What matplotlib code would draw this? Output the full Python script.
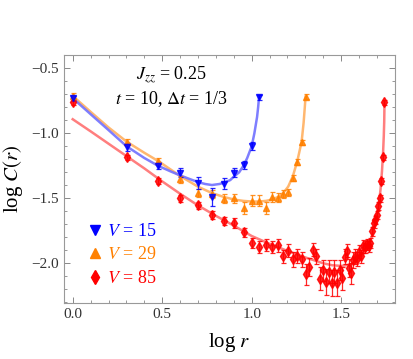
import numpy as np
import matplotlib
matplotlib.use("Agg")
import matplotlib.pyplot as plt
from matplotlib.lines import Line2D
from matplotlib.ticker import MultipleLocator

plt.rcParams.update({
    'font.family': ['Liberation Serif', 'DejaVu Serif'],
    'mathtext.fontset': 'stix',
    'axes.unicode_minus': True,
})

# ---- data: log C(r) vs r (x axis is log10 r) ----
r_15 = np.arange(1, 12)
c_15 = [-0.731, -1.103, -1.248, -1.303, -1.385, -1.49, -1.387, -1.303, -1.242, -1.099, -0.723]
e_15 = [0.02, 0.03, 0.03, 0.035, 0.045, 0.07, 0.045, 0.035, 0.03, 0.03, 0.02]

r_29 = np.arange(1, 21)
c_29 = [-0.713, -1.064, -1.213, -1.354, -1.46, -1.467, -1.505, -1.50, -1.577, -1.518,
        -1.518, -1.577, -1.49, -1.495, -1.467, -1.455, -1.345, -1.22, -1.07, -0.718]
e_29 = [0.02, 0.02, 0.025, 0.025, 0.03, 0.03, 0.035, 0.035, 0.045, 0.04,
        0.04, 0.045, 0.035, 0.035, 0.03, 0.03, 0.025, 0.025, 0.02, 0.02]

r_85 = np.arange(1, 56)
c_85 = [-0.763, -1.185, -1.367, -1.50, -1.555, -1.628, -1.672, -1.69, -1.76, -1.846,
        -1.872, -1.858, -1.875, -1.863, -1.947, -1.905, -1.97, -1.945, -1.97, -2.083,
        -2.03, -1.895, -1.947, -2.118, -2.055, -2.145, -2.064, -2.154, -2.064, -2.15,
        -2.052, -2.115, -1.949, -1.903, -2.035, -2.077, -1.975, -1.948, -1.965, -1.91,
        -1.945, -1.867, -1.873, -1.855, -1.87, -1.845, -1.755, -1.692, -1.668, -1.628,
        -1.56, -1.50, -1.367, -1.185, -0.762]
e_85 = [0.02, 0.02, 0.025, 0.025, 0.03, 0.03, 0.03, 0.035, 0.035, 0.04,
        0.045, 0.045, 0.045, 0.05, 0.05, 0.05, 0.055, 0.055, 0.06, 0.08,
        0.07, 0.05, 0.06, 0.09, 0.08, 0.1, 0.09, 0.1, 0.09, 0.1,
        0.08, 0.09, 0.06, 0.05, 0.07, 0.08, 0.06, 0.055, 0.055, 0.05,
        0.05, 0.05, 0.045, 0.045, 0.045, 0.04, 0.035, 0.035, 0.03, 0.03,
        0.03, 0.025, 0.025, 0.02, 0.02]

# fit curves (x = log r, y = log C)
fx_15 = [0, 0.1, 0.2, 0.301, 0.4, 0.477, 0.55, 0.602, 0.65, 0.699, 0.74, 0.778, 0.82,
         0.845, 0.88, 0.903, 0.93, 0.954, 0.975, 1.0, 1.015, 1.021, 1.03, 1.036, 1.041]
fy_15 = [-0.73, -0.853, -0.975, -1.10, -1.19, -1.25, -1.295, -1.325, -1.35, -1.375, -1.39,
         -1.398, -1.39, -1.38, -1.36, -1.33, -1.30, -1.25, -1.19, -1.10, -1.0, -0.95,
         -0.875, -0.80, -0.723]

fx_29 = [0, 0.1, 0.2, 0.301, 0.4, 0.477, 0.602, 0.699, 0.778, 0.845, 0.903, 0.954, 1.0,
         1.041, 1.079, 1.114, 1.146, 1.176, 1.204, 1.23, 1.255, 1.279, 1.29, 1.2967, 1.301]
fy_29 = [-0.713, -0.835, -0.955, -1.064, -1.15, -1.213, -1.33, -1.41, -1.46, -1.49, -1.51,
         -1.52, -1.525, -1.525, -1.52, -1.51, -1.49, -1.46, -1.41, -1.33, -1.213, -1.064,
         -0.92, -0.80, -0.718]

fx_85 = [0, 0.1, 0.2, 0.3, 0.4, 0.5, 0.6, 0.7, 0.8, 0.9, 1.0, 1.1, 1.2, 1.3, 1.4, 1.45,
         1.5, 1.55, 1.6, 1.64, 1.67, 1.69, 1.70, 1.71, 1.72, 1.728, 1.734, 1.738, 1.7404, 1.742]
fy_85 = [-0.892, -0.985, -1.08, -1.175, -1.27, -1.37, -1.465, -1.555, -1.635, -1.71, -1.79,
         -1.85, -1.905, -1.955, -2.0, -2.015, -2.02, -2.01, -1.97, -1.90, -1.80, -1.70,
         -1.63, -1.55, -1.43, -1.29, -1.15, -1.02, -0.91, -0.76]

labels = ['$V$ = 15', '$V$ = 29', '$V$ = 85']
colors = ['#0000ff', '#ff8000', '#ff0000']
line_colors = ['#7070ff', '#ffb060', '#ff7070']
markers = ['v', '^', 'd']

fig = plt.figure(figsize=(4.14, 3.59), dpi=100)
ax = fig.add_axes([0.1546, 0.1568, 0.7988, 0.69])

series = [(r_85, c_85, e_85, fx_85, fy_85, 2),
          (r_29, c_29, e_29, fx_29, fy_29, 1),
          (r_15, c_15, e_15, fx_15, fy_15, 0)]
for r, c, e, fx, fy, k in series:
    ax.plot(fx, fy, color=line_colors[k], lw=1.8, alpha=0.9, zorder=2)
    ax.errorbar(np.log10(r), c, yerr=e, fmt=markers[k], color=colors[k], ms=5,
                ecolor=colors[k], elinewidth=0.9, capsize=1.8, capthick=0.9,
                alpha=0.85, zorder=3)

ax.set_xlim(-0.0486, 1.799)
ax.set_ylim(-2.303, -0.398)
ax.xaxis.set_major_locator(MultipleLocator(0.5))
ax.xaxis.set_minor_locator(MultipleLocator(0.1))
ax.yaxis.set_major_locator(MultipleLocator(0.5))
ax.yaxis.set_minor_locator(MultipleLocator(0.1))
ax.tick_params(which='both', direction='in', top=True, right=True, color='#888888',
               labelsize=11, labelcolor='#333333')
ax.tick_params(which='major', length=4, width=0.7, pad=4)
ax.tick_params(which='minor', length=2.3, width=0.6)
for s in ax.spines.values():
    s.set_color('#999999')
    s.set_linewidth(0.8)

ax.set_xlabel(r'log $r$', fontsize=15, labelpad=7)
ax.set_ylabel(r'log $C(r)$', fontsize=15, labelpad=4)

ax.text(0.325, 0.919, r'$J_{zz}$ = 0.25', transform=ax.transAxes,
        ha='center', va='center', fontsize=13)
ax.text(0.325, 0.822, r'$t$ = 10, $\Delta t$ = 1/3', transform=ax.transAxes,
        ha='center', va='center', fontsize=13)

handles = [Line2D([], [], marker=markers[k], color=colors[k], ls='none', ms=7) for k in range(3)]
ax.legend(handles, labels, loc='upper left', bbox_to_anchor=(0.065, 0.322),
          frameon=False, fontsize=13, handlelength=1.0, handletextpad=0.2,
          labelspacing=0.36, borderpad=0, borderaxespad=0, labelcolor=colors)

fig.savefig('out.png', dpi=100)
